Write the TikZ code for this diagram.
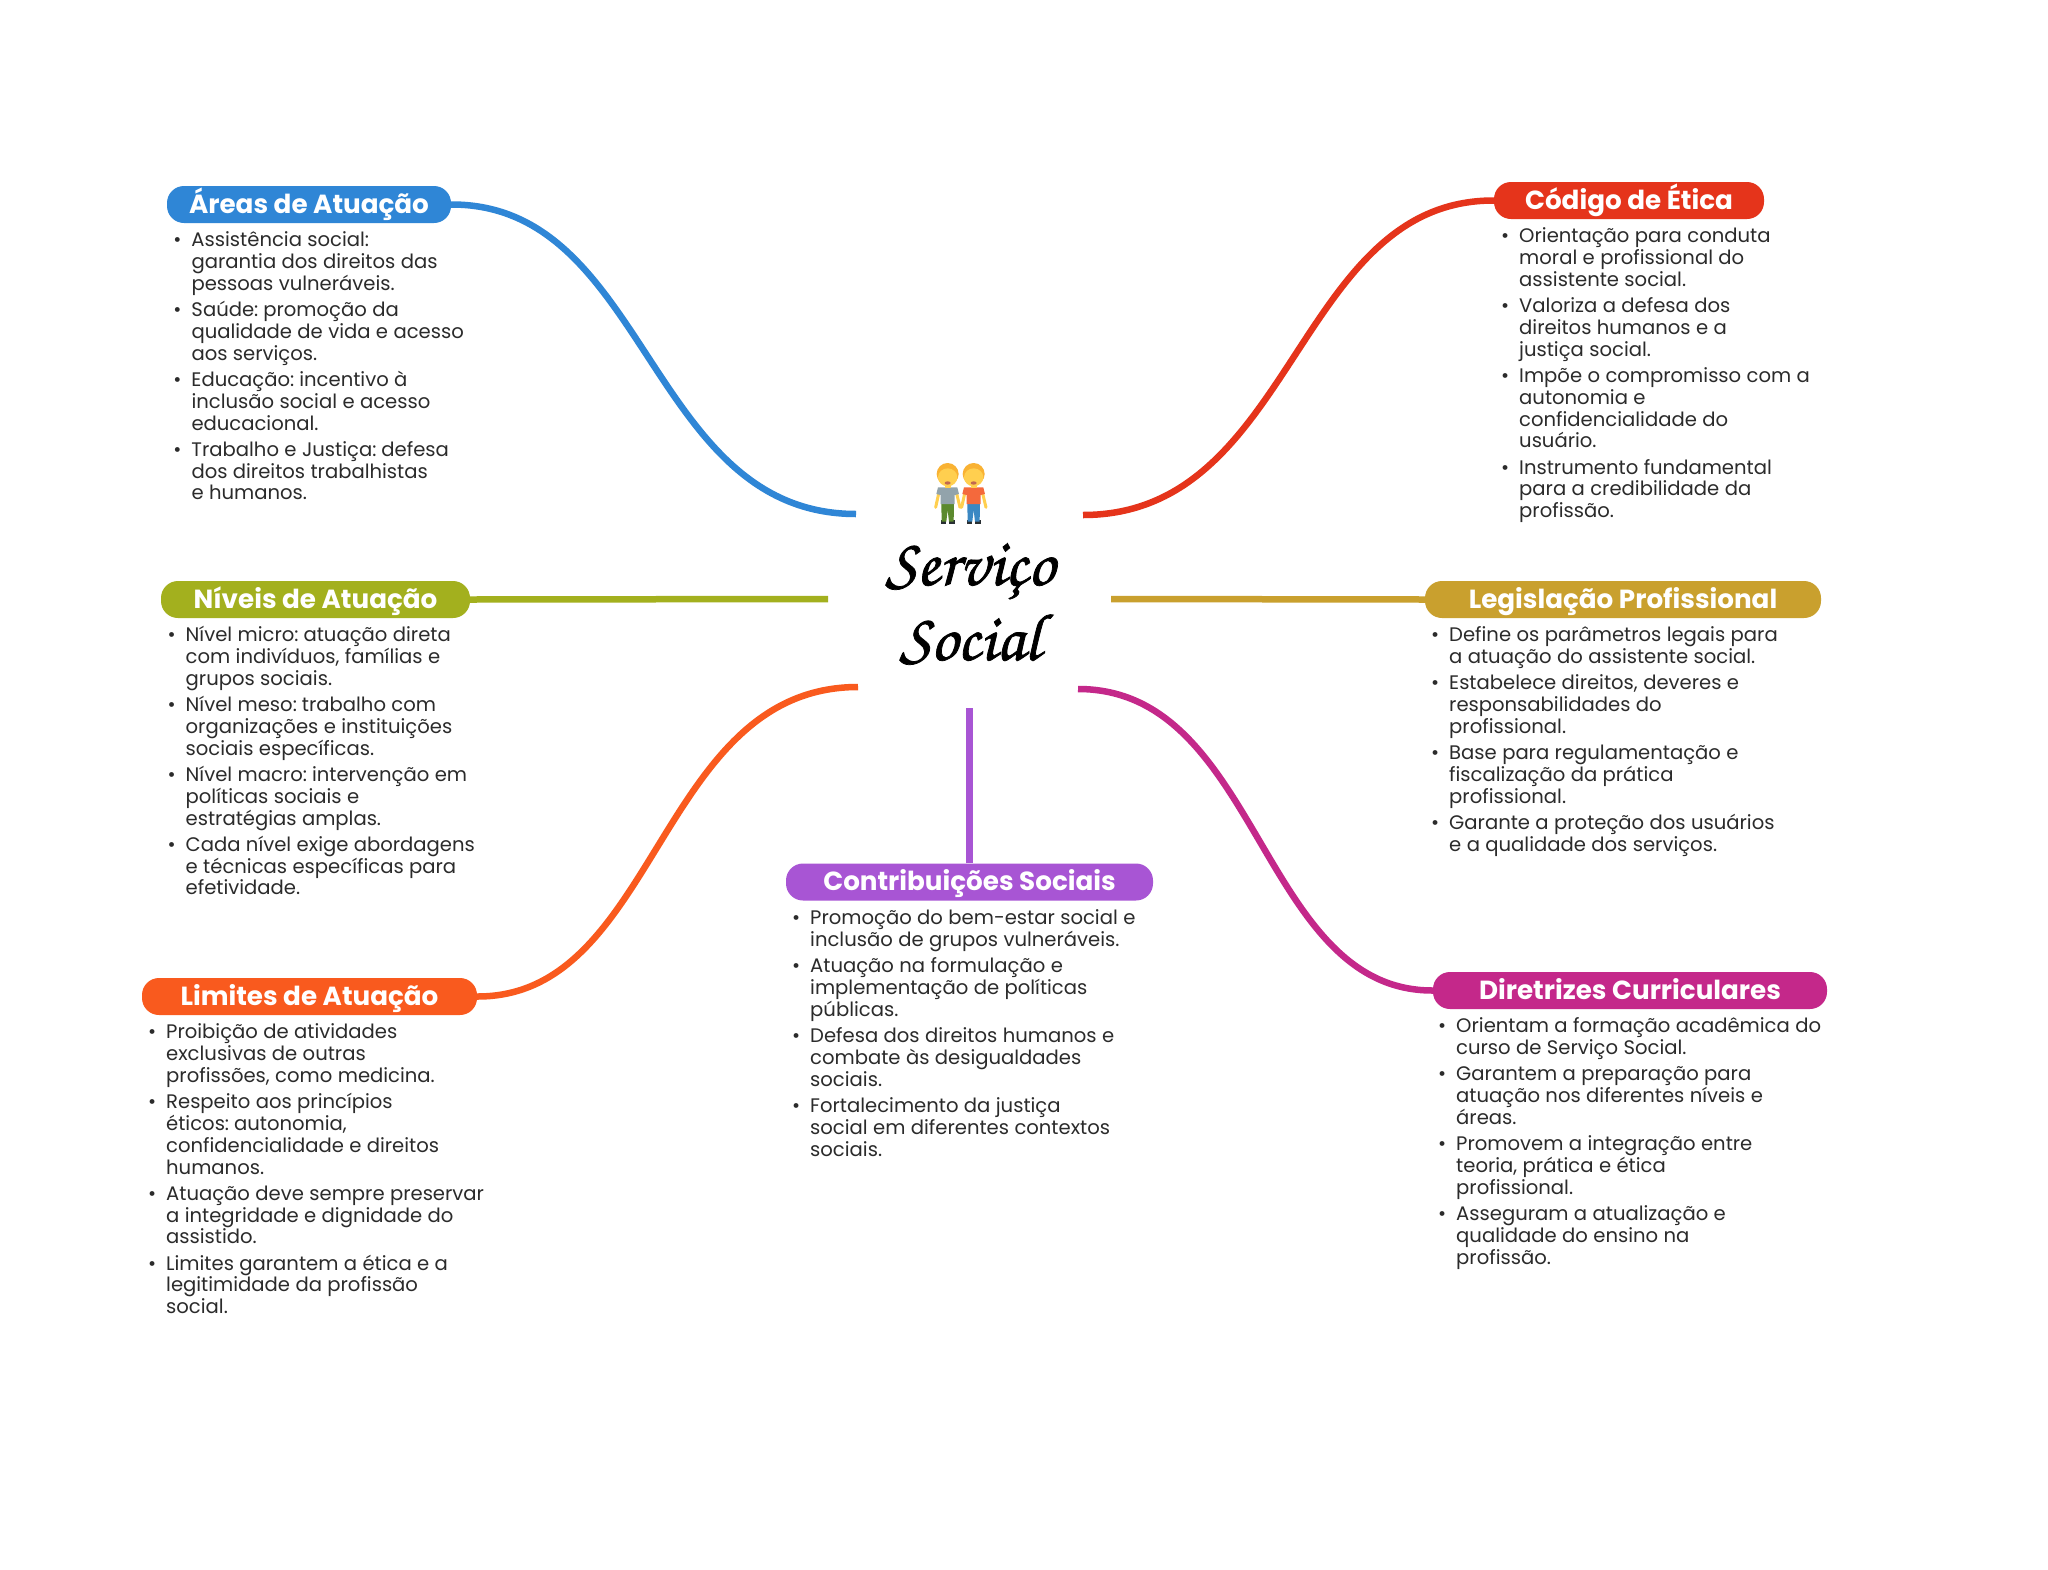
\documentclass[tikz,border=0pt]{standalone}
\usepackage{fontspec}
\setmainfont{Poppins}
\newfontfamily\scriptface[AutoFakeBold=1.1]{TeX Gyre Chorus}
\definecolor{cblue}{HTML}{2F86D6}
\definecolor{cred}{HTML}{E5341B}
\definecolor{cgreen}{HTML}{A3B01E}
\definecolor{cgold}{HTML}{C9A02E}
\definecolor{corange}{HTML}{F95A1E}
\definecolor{cpurple}{HTML}{A855D4}
\definecolor{cmag}{HTML}{C4288A}
\definecolor{bodyink}{HTML}{2B2B2B}
\definecolor{skin}{HTML}{FFCF4F}
\definecolor{hair}{HTML}{F9B233}
\definecolor{shoe}{HTML}{292F33}
\definecolor{beard}{HTML}{C1694F}
\definecolor{shgray}{HTML}{92A3AB}
\definecolor{shred}{HTML}{F4693C}
\definecolor{pgreen}{HTML}{5C8A2E}
\definecolor{pblue}{HTML}{3B88C3}
\newcommand{\itm}{\par\leavevmode\rule{0pt}{16pt}\llap{•\hspace{10pt}}}
\newenvironment{blk}{\fontsize{19.6}{21.8}\selectfont\spaceskip=5.4pt\color{bodyink}\leftskip=0pt\parindent=0pt\parskip=4.4pt\raggedright\hbadness=10000 \vspace*{-9.6pt}}{\par}
\tikzset{
 pill/.style={rounded corners=17pt,minimum height=37pt,inner sep=0pt,text=white,font=\fontsize{26.2}{26.2}\selectfont\bfseries,anchor=center,text height=21pt,text depth=3.5pt},
 blocktxt/.style={anchor=north west,inner sep=0pt,text width=400pt,align=left},
 link/.style={line width=6.5pt,line cap=butt},
 hubtxt/.style={inner sep=0pt,font=\fontsize{67}{67}\selectfont\scriptface\bfseries,anchor=base},
}
\newcommand{\pillnode}[6]{\node[pill,fill=#2,minimum width=#5pt] (#1) at (#3,#4) {#6};}
\newcommand{\person}[3]{%
 \fill[shoe] (#1+362,271) rectangle (#1+379,281);
 \fill[shoe] (#1+387,271) rectangle (#1+405,281);
 \fill[#3] (#1+364,220) -- (#1+402,220) -- (#1+401,275) -- (#1+387,275) -- (#1+383,240) -- (#1+379,275) -- (#1+365,275) -- cycle;
 \draw[skin,line width=3pt,line cap=round] (#1+358,182) -- (#1+347,232);
 \draw[skin,line width=3pt,line cap=round] (#1+408,182) -- (#1+420,232);
 \fill[#2] (#1+354,172) -- (#1+412,172) -- (#1+417,192) -- (#1+404,195) -- (#1+404,222) -- (#1+362,222) -- (#1+362,195) -- (#1+349,192) -- cycle;
 \fill[skin] (#1+374,155) rectangle (#1+392,175);
 \fill[hair] (#1+383,132) circle[radius=33];
 \fill[skin] (#1+383,142) ellipse[x radius=29,y radius=27];
 \fill[beard] (#1+383,159) ellipse[x radius=9,y radius=5];
}
\begin{document}
\begin{tikzpicture}[x=1pt,y=-1pt]
\useasboundingbox (0,0) rectangle (2048,1569);
\fill[white] (0,0) rectangle (2048,1569);
% hub
\node[hubtxt] (hubA) at (970,585) {Serviço};
\node[hubtxt] (hubB) at (970,660) {Social};
% free ends
\coordinate (eBlue) at (856,514);
\coordinate (eRed) at (1083,515);
\coordinate (eGreen) at (828,599);
\coordinate (eGold) at (1111,599);
\coordinate (eOrange) at (858,687);
\coordinate (eMag) at (1078,689);
\coordinate (ePurple) at (969.5,708);
\pillnode{areas}{cblue}{309}{204.5}{284}{Áreas de Atuação}
\pillnode{codigo}{cred}{1629}{200.5}{270}{Código de Ética}
\pillnode{niveis}{cgreen}{315.5}{599.5}{309}{Níveis de Atuação}
\pillnode{legis}{cgold}{1623}{599.5}{396}{Legislação Profissional}
\pillnode{limites}{corange}{309.5}{996.5}{335}{Limites de Atuação}
\pillnode{contrib}{cpurple}{969.5}{882}{367}{Contribuições Sociais}
\pillnode{diretr}{cmag}{1630}{990.5}{394}{Diretrizes Curriculares}
\draw[link,cblue] (areas.east) .. controls (648,204) and (648,514) .. (eBlue);
\draw[link,cred] (codigo.west) .. controls (1295,200) and (1295,515) .. (eRed);
\draw[link,cgreen] (niveis.east) -- (eGreen);
\draw[link,cgold] (legis.west) -- (eGold);
\draw[link,corange] (limites.east) .. controls (658,997) and (658,687) .. (eOrange);
\draw[link,cmag] (diretr.west) .. controls (1260,991) and (1260,689) .. (eMag);
\draw[link,cpurple] (contrib.north) -- (ePurple);
% text blocks
\node[blocktxt] (tAreas) at (191.3,230) {\begin{blk}\itm Assistência social:\\garantia dos direitos das\\pessoas vulneráveis.
\itm Saúde: promoção da\\qualidade de vida e acesso\\aos serviços.
\itm Educação: incentivo à\\inclusão social e acesso\\educacional.
\itm Trabalho e Justiça: defesa\\dos direitos trabalhistas\\e humanos.\end{blk}};
\node[blocktxt] (tCodigo) at (1519,226) {\begin{blk}\itm Orientação para conduta\\moral e profissional do\\assistente social.
\itm Valoriza a defesa dos\\direitos humanos e a\\justiça social.
\itm Impõe o compromisso com a\\autonomia e\\confidencialidade do\\usuário.
\itm Instrumento fundamental\\para a credibilidade da\\profissão.\end{blk}};
\node[blocktxt] (tNiveis) at (185.5,625) {\begin{blk}\itm Nível micro: atuação direta\\com indivíduos, famílias e\\grupos sociais.
\itm Nível meso: trabalho com\\organizações e instituições\\sociais específicas.
\itm Nível macro: intervenção em\\políticas sociais e\\estratégias amplas.
\itm Cada nível exige abordagens\\e técnicas específicas para\\efetividade.\end{blk}};
\node[blocktxt] (tLegis) at (1449,625) {\begin{blk}\itm Define os parâmetros legais para\\a atuação do assistente social.
\itm Estabelece direitos, deveres e\\responsabilidades do\\profissional.
\itm Base para regulamentação e\\fiscalização da prática\\profissional.
\itm Garante a proteção dos usuários\\e a qualidade dos serviços.\end{blk}};
\node[blocktxt] (tLimites) at (166,1022) {\begin{blk}\itm Proibição de atividades\\exclusivas de outras\\profissões, como medicina.
\itm Respeito aos princípios\\éticos: autonomia,\\confidencialidade e direitos\\humanos.
\itm Atuação deve sempre preservar\\a integridade e dignidade do\\assistido.
\itm Limites garantem a ética e a\\legitimidade da profissão\\social.\end{blk}};
\node[blocktxt] (tContrib) at (810,908) {\begin{blk}\itm Promoção do bem-estar social e\\inclusão de grupos vulneráveis.
\itm Atuação na formulação e\\implementação de políticas\\públicas.
\itm Defesa dos direitos humanos e\\combate às desigualdades\\sociais.
\itm Fortalecimento da justiça\\social em diferentes contextos\\sociais.\end{blk}};
\node[blocktxt] (tDiretr) at (1456,1016) {\begin{blk}\itm Orientam a formação acadêmica do\\curso de Serviço Social.
\itm Garantem a preparação para\\atuação nos diferentes níveis e\\áreas.
\itm Promovem a integração entre\\teoria, prática e ética\\profissional.
\itm Asseguram a atualização e\\qualidade do ensino na\\profissão.\end{blk}};
% two people holding hands
\begin{scope}[shift={(820,430)},x=0.3333pt,y=-0.3333pt]
 \person{0}{shgray}{pgreen}
 \person{78}{shred}{pblue}
\end{scope}
\end{tikzpicture}
\end{document}
